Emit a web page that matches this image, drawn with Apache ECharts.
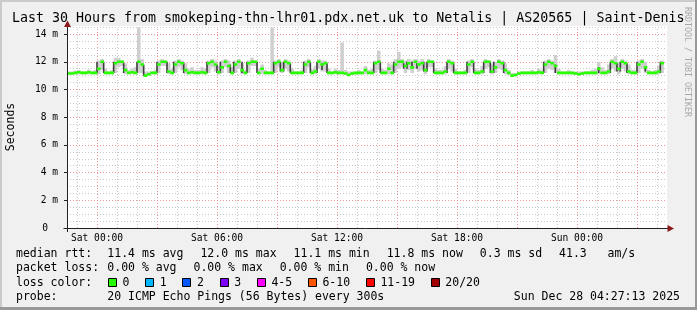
<!DOCTYPE html>
<html><head><meta charset="utf-8">
<script src="https://cdn.jsdelivr.net/npm/echarts@6/dist/echarts.min.js"></script>
<style>html,body{margin:0;padding:0;background:#f0f0f0}#c{width:697px;height:310px}</style>
</head><body><div id="c"></div>
<script>
// ---- time base (hours relative to Sat 00:00) ----
const startHour = -1.5;          // Fri 22:30
const stepHours = 1 / 6;         // 10 minute samples
const xMin = -1.5, xMax = 28.5;
const yMax = 14.5;

// ---- median rtt (ms), one per 10 min ----
const median = [
 11.15,11.15,11.2,11.25,11.2,11.2,11.25,11.2,11.2,11.5,
 12.0,11.2,11.2,11.2,11.9,12.0,12.0,11.4,11.2,11.25,
 11.2,12.0,11.8,11.0,11.1,11.2,11.2,11.8,12.0,12.0,
 11.3,11.2,11.8,12.0,11.9,11.4,11.2,11.25,11.2,11.2,
 11.25,11.2,11.9,12.0,11.8,11.25,11.6,12.0,11.7,11.2,
 11.8,12.0,11.4,11.2,11.9,12.0,12.0,11.2,11.5,11.2,
 11.2,11.2,11.9,12.0,11.4,12.0,11.9,11.2,11.2,11.2,
 11.2,11.8,12.0,11.2,11.3,12.0,11.8,11.9,11.2,11.2,
 11.25,11.2,11.2,11.15,11.05,11.15,11.2,11.2,11.2,11.4,
 11.2,11.2,11.9,12.0,11.2,11.2,11.5,11.2,11.8,12.0,
 12.0,11.7,11.9,11.6,12.0,11.8,11.9,11.4,12.0,12.0,
 11.2,11.2,11.2,11.3,12.0,11.9,11.2,11.2,11.2,11.2,
 11.8,12.0,11.2,11.2,11.3,12.0,12.0,11.3,11.6,12.0,
 11.9,11.4,11.2,11.0,11.05,11.15,11.2,11.2,11.2,11.2,
 11.2,11.25,11.2,11.8,12.0,11.9,11.7,11.2,11.2,11.2,
 11.2,11.2,11.15,11.1,11.15,11.2,11.2,11.2,11.2,11.5,
 11.2,11.2,11.3,12.0,11.9,11.5,12.0,11.9,11.3,11.2,
 11.2,11.8,12.0,11.6,11.2,11.2,11.2,11.3,11.9
];
// ---- smoke: lowest / highest ping of each sample (ms) ----
const smokeLow = [
 11.1,11.1,11.1,11.1,11.1,11.1,11.1,11.1,11.1,11.1,
 11.4,11.1,11.1,11.1,11.2,11.6,11.7,11.1,11.1,11.1,
 11.1,11.2,11.2,10.95,11.0,11.1,11.1,11.2,11.7,11.7,
 11.1,11.1,11.2,11.6,11.4,11.1,11.1,11.1,11.1,11.1,
 11.1,11.1,11.2,11.6,11.3,11.1,11.2,11.6,11.2,11.1,
 11.2,11.5,11.1,11.1,11.2,11.7,11.7,11.1,11.1,11.1,
 11.1,11.1,11.2,11.6,11.2,11.5,11.3,11.1,11.1,11.1,
 11.1,11.2,11.6,11.1,11.1,11.5,11.3,11.3,11.1,11.1,
 11.1,11.1,11.1,11.05,11.0,11.05,11.1,11.1,11.1,11.1,
 11.1,11.1,11.2,11.4,11.1,11.1,11.1,11.1,11.2,11.5,
 11.6,11.2,11.4,11.2,11.5,11.3,11.4,11.1,11.6,11.6,
 11.1,11.1,11.1,11.1,11.5,11.3,11.1,11.1,11.1,11.1,
 11.2,11.6,11.1,11.1,11.1,11.5,11.6,11.1,11.2,11.5,
 11.4,11.1,11.05,10.95,10.95,11.05,11.1,11.1,11.1,11.1,
 11.1,11.1,11.1,11.2,11.5,11.4,11.2,11.1,11.1,11.1,
 11.1,11.1,11.05,11.0,11.05,11.1,11.1,11.1,11.1,11.1,
 11.1,11.1,11.1,11.5,11.3,11.1,11.5,11.3,11.1,11.1,
 11.1,11.2,11.5,11.2,11.1,11.1,11.1,11.1,11.2
];
const smokeHigh = [
 11.3,11.3,11.35,11.4,11.3,11.3,11.45,11.3,11.4,12.1,
 12.2,11.5,11.3,11.4,12.3,12.3,12.1,11.9,11.4,11.5,
 11.6,14.5,12.2,11.3,11.3,11.3,11.4,12.1,12.2,12.1,
 11.9,11.5,12.1,12.2,12.1,11.9,11.5,11.6,11.4,11.4,
 11.6,11.5,12.1,12.2,12.1,11.7,12.1,12.2,12.1,11.6,
 12.1,12.2,11.9,11.4,12.1,12.3,12.1,11.5,11.8,11.4,
 11.3,14.5,12.1,12.2,12.0,12.2,12.1,11.5,11.3,11.3,
 11.4,12.1,12.2,11.5,11.7,12.2,12.1,12.1,11.5,11.3,
 11.5,11.4,13.4,11.4,11.3,11.3,11.3,11.4,11.3,11.7,
 11.4,11.5,12.1,12.8,11.5,11.4,11.9,11.8,12.2,12.7,
 12.2,12.1,12.2,12.1,12.2,12.1,12.2,12.0,12.2,12.1,
 11.5,11.4,11.4,11.7,12.2,12.1,11.5,11.3,11.3,11.4,
 12.1,12.2,11.5,11.4,11.7,12.2,12.1,11.8,12.0,12.2,
 12.1,11.9,11.4,11.2,11.2,11.3,11.3,11.3,11.3,11.4,
 11.3,11.5,11.4,12.1,12.2,12.1,12.5,11.5,11.3,11.3,
 11.4,11.3,11.3,11.3,11.3,11.3,11.3,11.4,11.5,12.0,
 11.6,11.4,11.8,12.2,12.4,12.0,12.2,12.1,11.8,11.4,
 11.4,12.1,12.2,12.0,11.4,11.3,11.4,11.7,12.1
];
// ---- dense smoke at level changes: position (in samples), low, high ----
const darkPos = [
 9,11,14,17,21, 23,27,30,32,35, 42,45,46,49,50,
 52.5,54,57,62,64, 65,67,71,73,75, 76.5,78,92,94,98,
 101,102,103.5,105,107, 108,110,114,116,120, 122,125,127,128,131,
 143,146.5,159.5,163,165, 166,168,171,173.5,178
];
const darkLow = [
 11.2,11.2,11.2,11.2,11.2, 11.0,11.2,11.2,11.2,11.2, 11.2,11.2,11.2,11.2,11.2,
 11.2,11.2,11.2,11.2,11.3, 11.3,11.2,11.2,11.2,11.2, 11.4,11.2,11.2,11.2,11.2,
 11.5,11.5,11.5,11.5,11.3, 11.3,11.2,11.2,11.2,11.2, 11.2,11.2,11.2,11.2,11.2,
 11.2,11.2,11.2,11.2,11.3, 11.3,11.2,11.2,11.3,11.2
];
const darkHigh = [
 12.0,12.0,12.0,11.9,12.0, 11.8,12.0,12.0,12.0,11.9, 12.0,11.8,12.0,11.8,12.0,
 12.0,12.0,12.0,12.0,12.0, 12.0,11.9,12.0,12.0,12.0, 11.9,11.9,12.0,12.0,12.0,
 11.9,12.0,12.0,11.9,12.0, 12.0,12.0,12.0,11.9,12.0, 12.0,12.0,12.0,12.0,12.0,
 12.0,11.8,11.6,12.0,11.9, 12.0,11.9,12.0,11.7,12.0
];

// ---- axis ticks ----
const xTickHours = [0, 6, 12, 18, 24];
const xTickLabels = ['Sat 00:00', 'Sat 06:00', 'Sat 12:00', 'Sat 18:00', 'Sun 00:00'];
const minorGridHours = [-1,0,1,2,3,4,5,6,7,8,9,10,11,12,13,14,15,16,17,18,19,20,21,22,23,24,25,26,27,28];
const majorGridHours = [0,3,6,9,12,15,18,21,24,27];

// ---- texts ----
const titleText = 'Last 30 Hours from smokeping-thn-lhr01.pdx.net.uk to Netalis | AS20565 | Saint-Denis';
const statRows = [
  ['median rtt:', ['11.4 ms avg', '12.0 ms max', '11.1 ms min', '11.8 ms now', '0.3 ms sd', '41.3   am/s']],
  ['packet loss:', ['0.00 % avg', '0.00 % max', '0.00 % min', '0.00 % now']]
];
const lossLabels = ['0', '1', '2', '3', '4-5', '6-10', '11-19', '20/20'];
const lossColors = ['#26ff00', '#00b8ff', '#0059ff', '#7e00ff', '#ff00ff', '#ff5500', '#ff0000', '#a10000'];
const probeText = '20 ICMP Echo Pings (56 Bytes) every 300s';
const dateText = 'Sun Dec 28 04:27:13 2025';

const MONO = '"DejaVu Sans Mono", monospace';
const CW = 6.92; // char width at 11.5px

const chart = echarts.init(document.getElementById('c'), null, {renderer: 'canvas'});

function sampleT(i) { return startHour + (i + 0.5) * stepHours; }

const smokeData = smokeLow.map((lo, i) => [sampleT(i), lo, smokeHigh[i]]);
const medianData = median.map((v, i) => [sampleT(i), v]);
const darkData = darkPos.map((p, k) => [startHour + p * stepHours, darkLow[k], darkHigh[k]]);

function vline(color) {
  return function (params, api) {
    const h = api.value(0);
    const a = api.coord([h, 0]);
    const b = api.coord([h, yMax]);
    const x = Math.round(a[0]) + 0.5;
    return {type: 'line', shape: {x1: x, y1: a[1], x2: x, y2: b[1]},
      style: {stroke: color, lineWidth: 1, lineDash: [1, 2]}};
  };
}

const graphics = [];
// frame shading
graphics.push({type: 'rect', z: -20, silent: true, shape: {x: 0, y: 0, width: 697, height: 2}, style: {fill: '#cbcbcb'}});
graphics.push({type: 'rect', z: -20, silent: true, shape: {x: 0, y: 0, width: 2, height: 310}, style: {fill: '#cbcbcb'}});
graphics.push({type: 'rect', z: -20, silent: true, shape: {x: 0, y: 307, width: 697, height: 3}, style: {fill: '#999999'}});
graphics.push({type: 'rect', z: -20, silent: true, shape: {x: 695, y: 0, width: 2, height: 310}, style: {fill: '#999999'}});
// canvas
graphics.push({type: 'rect', z: -20, silent: true, shape: {x: 67, y: 26, width: 600, height: 202}, style: {fill: '#ffffff'}});
// axis lines and arrows
graphics.push({type: 'line', z: 50, silent: true, shape: {x1: 63.5, y1: 228.5, x2: 668, y2: 228.5}, style: {stroke: '#222', lineWidth: 1}});
graphics.push({type: 'line', z: 50, silent: true, shape: {x1: 67.5, y1: 232, x2: 67.5, y2: 26}, style: {stroke: '#222', lineWidth: 1}});
graphics.push({type: 'polygon', z: 51, silent: true, shape: {points: [[67.5, 20.5], [64, 27], [71, 27]]}, style: {fill: '#8b1a1a'}});
graphics.push({type: 'polygon', z: 51, silent: true, shape: {points: [[674, 228.5], [667.5, 225], [667.5, 232]]}, style: {fill: '#8b1a1a'}});
// title
graphics.push({type: 'text', z: 60, x: 12, y: 18.5, style: {text: titleText, fontFamily: MONO, fontSize: 13.3, fill: '#000', align: 'left', verticalAlign: 'middle'}});
// y axis name
graphics.push({type: 'text', z: 60, x: 11, y: 127, rotation: Math.PI / 2, style: {text: 'Seconds', fontFamily: MONO, fontSize: 11.5, fill: '#000', align: 'center', verticalAlign: 'middle'}});
// watermark
graphics.push({type: 'text', z: 60, x: 687.5, y: 62, rotation: -Math.PI / 2, style: {text: 'RRDTOOL / TOBI OETIKER', fontFamily: MONO, fontSize: 8.3, fill: '#a8a8a8', align: 'center', verticalAlign: 'middle'}});
// stat rows
const rowY = [254, 268.3, 282.6, 296.8];
statRows.forEach((row, r) => {
  graphics.push({type: 'text', z: 60, x: 16, y: rowY[r], style: {text: row[0], fontFamily: MONO, fontSize: 11.5, fill: '#000', align: 'left', verticalAlign: 'middle'}});
  let x = 107.3;
  row[1].forEach(s => {
    graphics.push({type: 'text', z: 60, x: x, y: rowY[r], style: {text: s, fontFamily: MONO, fontSize: 11.5, fill: '#000', align: 'left', verticalAlign: 'middle'}});
    x += s.length * CW + 17;
  });
});
// loss color row
graphics.push({type: 'text', z: 60, x: 16, y: rowY[2], style: {text: 'loss color:', fontFamily: MONO, fontSize: 11.5, fill: '#000', align: 'left', verticalAlign: 'middle'}});
{
  let x = 108;
  lossLabels.forEach((lab, k) => {
    graphics.push({type: 'rect', z: 60, shape: {x: Math.round(x) + 0.5, y: 278.5, width: 8, height: 8}, style: {fill: lossColors[k], stroke: '#000', lineWidth: 1}});
    graphics.push({type: 'text', z: 60, x: x + 14.5, y: rowY[2], style: {text: lab, fontFamily: MONO, fontSize: 11.5, fill: '#000', align: 'left', verticalAlign: 'middle'}});
    x += 14.5 + lab.length * CW + 15.8;
  });
}
// probe row
graphics.push({type: 'text', z: 60, x: 16, y: rowY[3], style: {text: 'probe:', fontFamily: MONO, fontSize: 11.5, fill: '#000', align: 'left', verticalAlign: 'middle'}});
graphics.push({type: 'text', z: 60, x: 107.3, y: rowY[3], style: {text: probeText, fontFamily: MONO, fontSize: 11.5, fill: '#000', align: 'left', verticalAlign: 'middle'}});
graphics.push({type: 'text', z: 60, x: 680, y: rowY[3], style: {text: dateText, fontFamily: MONO, fontSize: 11.5, fill: '#000', align: 'right', verticalAlign: 'middle'}});

const option = {
  animation: false,
  backgroundColor: '#f0f0f0',
  grid: {left: 67, right: 30, top: 228 - yMax * 13.85, bottom: 82, containLabel: false},
  xAxis: {
    type: 'value', min: xMin, max: xMax,
    axisLine: {show: false},
    axisTick: {show: false},
    splitLine: {show: false},
    axisLabel: {
      customValues: xTickHours,
      formatter: v => { const k = xTickHours.indexOf(v); return k >= 0 ? xTickLabels[k] : ''; },
      fontFamily: MONO, fontSize: 9.6, color: '#000', margin: 5
    }
  },
  yAxis: [
    {
      type: 'value', min: 0, max: yMax, interval: 0.5, z: 0,
      axisLine: {show: false}, axisTick: {show: false}, axisLabel: {show: false},
      splitLine: {show: true, lineStyle: {color: '#c8c8c8', width: 1, type: [1, 2]}}
    },
    {
      type: 'value', min: 0, max: yMax, interval: 2, position: 'left', z: 1,
      axisLine: {show: false},
      axisTick: {show: true, length: 3, lineStyle: {color: '#222'}},
      axisLabel: {
        showMaxLabel: false,
        formatter: v => (v % 2 === 0 && v <= 14) ? (v === 0 ? '{z|0}' : v + ' m') : '',
        fontFamily: MONO, fontSize: 9.6, color: '#000', margin: 9,
        rich: {z: {fontFamily: MONO, fontSize: 9.6, color: '#000', padding: [0, 10, 0, 0]}}
      },
      splitLine: {show: true, showMinLine: false, showMaxLine: false, lineStyle: {color: '#f19494', width: 1, type: [1, 2]}}
    }
  ],
  graphic: {elements: graphics},
  series: [
    {type: 'custom', name: 'minorGrid', z: 1, silent: true, coordinateSystem: 'cartesian2d', yAxisIndex: 0,
      data: minorGridHours.map(h => [h]), renderItem: vline('#c8c8c8')},
    {type: 'custom', name: 'majorGrid', z: 1, silent: true, coordinateSystem: 'cartesian2d', yAxisIndex: 0,
      data: majorGridHours.map(h => [h]), renderItem: vline('#f19494')},
    {type: 'custom', name: 'smoke', z: 3, silent: true, coordinateSystem: 'cartesian2d', yAxisIndex: 0, clip: true,
      data: smokeData,
      renderItem: (params, api) => {
        const t = api.value(0);
        const p0 = api.coord([t - stepHours / 2, api.value(1)]);
        const p1 = api.coord([t + stepHours / 2, api.value(2)]);
        return {type: 'rect', shape: {x: p0[0], y: p1[1], width: p1[0] - p0[0] + 0.2, height: Math.max(p0[1] - p1[1], 0.5)},
          style: {fill: '#cfcfcf'}};
      }},
    {type: 'custom', name: 'smokeDense', z: 4, silent: true, coordinateSystem: 'cartesian2d', yAxisIndex: 0, clip: true,
      data: darkData,
      renderItem: (params, api) => {
        const t = api.value(0);
        const p0 = api.coord([t, api.value(1)]);
        const p1 = api.coord([t, api.value(2)]);
        return {type: 'rect', shape: {x: p0[0] - 0.8, y: p1[1], width: 1.6, height: p0[1] - p1[1]},
          style: {fill: '#3c3c3c'}};
      }},
    {type: 'custom', name: 'median', z: 5, silent: true, coordinateSystem: 'cartesian2d', yAxisIndex: 0, clip: true,
      data: medianData,
      renderItem: (params, api) => {
        const t = api.value(0);
        const p0 = api.coord([t - stepHours / 2, api.value(1)]);
        const p1 = api.coord([t + stepHours / 2, api.value(1)]);
        return {type: 'rect', shape: {x: p0[0], y: p0[1] - 1.3, width: p1[0] - p0[0] + 0.3, height: 2.6},
          style: {fill: '#26ff00'}};
      }}
  ]
};
chart.setOption(option);
</script>
</body></html>
